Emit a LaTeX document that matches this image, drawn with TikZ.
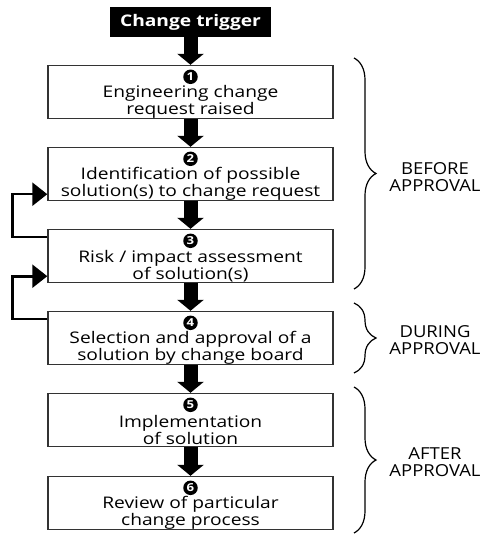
\documentclass[tikz,border=0pt]{standalone}
\usepackage{fontspec}
\setmainfont{Open Sans}[FakeStretch=1.2]
\newfontfamily\phasefont{Open Sans}[FakeStretch=1.12]
\usetikzlibrary{arrows.meta,decorations.pathreplacing}
\begin{document}
\begin{tikzpicture}[x=1pt,y=-1pt,
  stepbox/.style={draw=black!80,line width=1.4pt,minimum width=285pt,minimum height=53pt,inner sep=0pt},
  steptext/.style={align=center,font=\fontsize{16}{12.5}\selectfont,inner sep=0pt},
  num/.style={circle,fill=black,text=white,minimum size=14.5pt,inner sep=0pt,font=\fontsize{11}{10}\selectfont\bfseries},
  flow/.style={line width=14pt,-{Triangle[width=26pt,length=11pt]}},
  fb/.style={line width=2.6pt,-{Triangle[width=23pt,length=15pt]}},
  phase/.style={decorate,decoration={brace,amplitude=22pt},line width=1.2pt},
  phasetext/.style={align=center,font=\phasefont\fontsize{16.5}{17.5}\selectfont,inner sep=0pt}]
\useasboundingbox[fill=white] (0,0) rectangle (486,534);

% trigger
\node[fill=black,text=white,minimum width=161pt,minimum height=30pt,inner sep=0pt,
      font=\fontsize{16}{14}\selectfont\bfseries] (trig) at (190.5,22) {Change trigger};

% process steps
\node[stepbox] (box1) at (190.5,92)  {};
\node[stepbox] (box2) at (190.5,174) {};
\node[stepbox] (box3) at (190.5,256) {};
\node[stepbox] (box4) at (190.5,338) {};
\node[stepbox] (box5) at (190.5,420) {};
\node[stepbox] (box6) at (190.5,503) {};

\foreach \i in {1,...,6}{
  \node[num] (num\i) at ([yshift=-12pt]box\i.north) {\i};
}
\node[steptext] (txt1) at ([yshift=-10pt]box1.center) {Engineering change\\request raised};
\node[steptext] (txt2) at ([yshift=-10pt]box2.center) {Identification of possible\\solution(s) to change request};
\node[steptext] (txt3) at ([yshift=-10pt]box3.center) {Risk / impact assessment\\of solution(s)};
\node[steptext] (txt4) at ([yshift=-10pt]box4.center) {Selection and approval of a\\solution by change board};
\node[steptext] (txt5) at ([yshift=-10pt]box5.center) {Implementation\\of solution};
\node[steptext] (txt6) at ([yshift=-10pt]box6.center) {Review of particular\\change process};

% main flow
\draw[flow] (trig.south) -- (box1.north);
\draw[flow] (box1.south) -- (box2.north);
\draw[flow] (box2.south) -- (box3.north);
\draw[flow] (box3.south) -- (box4.north);
\draw[flow] (box4.south) -- (box5.north);
\draw[flow] (box5.south) -- (box6.north);

% feedback loops
\draw[fb] ([yshift=-8pt]box3.north west) -- ++(-35,0) |- ([yshift=7pt]box2.south west);
\draw[fb] ([yshift=-8pt]box4.north west) -- ++(-35,0) |- ([yshift=7pt]box3.south west);

% phases
\draw[phase] (354,58) -- (354,289);
\draw[phase] (354,303) -- (354,373);
\draw[phase] (354,387) -- (354,533);
\node[phasetext] (before) at (435,177) {BEFORE\\APPROVAL};
\node[phasetext] (during) at (435,340) {DURING\\APPROVAL};
\node[phasetext] (after)  at (435,462) {AFTER\\APPROVAL};
\end{tikzpicture}
\end{document}
